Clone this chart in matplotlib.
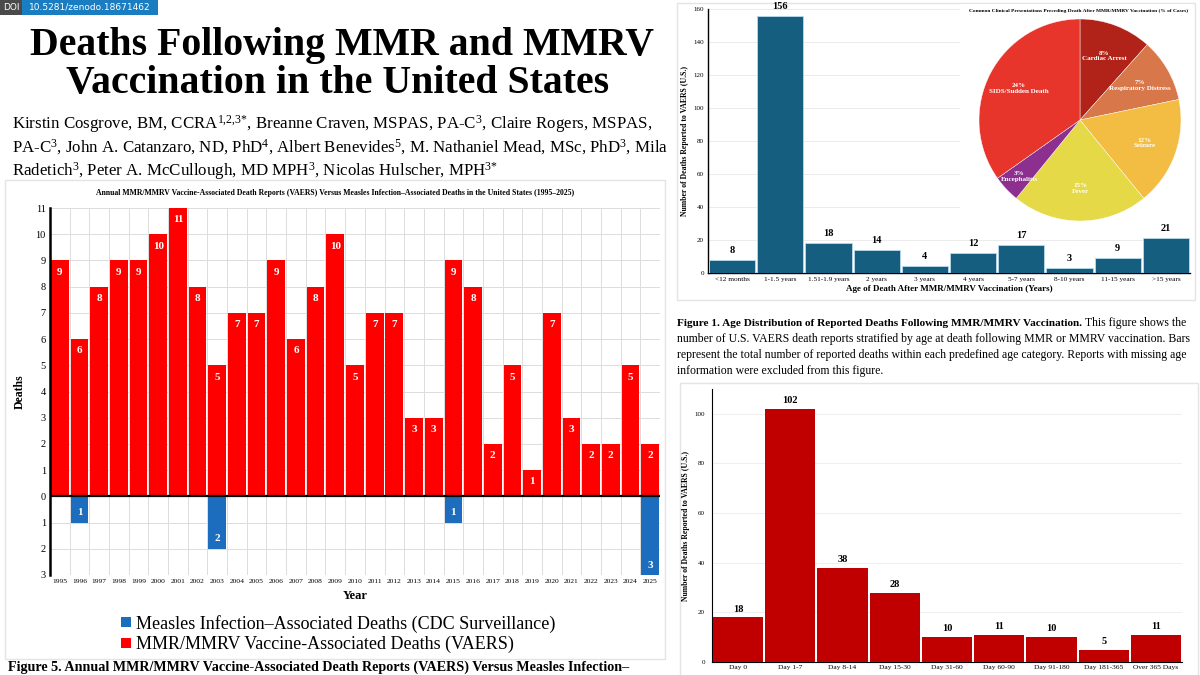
import matplotlib
matplotlib.use("Agg")
import matplotlib.pyplot as plt
from matplotlib.patches import Rectangle, Patch
import numpy as np

plt.rcParams['font.family'] = ['Liberation Serif', 'DejaVu Serif']
plt.rcParams['mathtext.fontset'] = 'custom'
plt.rcParams['mathtext.rm'] = 'Liberation Serif'
plt.rcParams['mathtext.it'] = 'Liberation Serif'

# ---------------- data ----------------
years = list(range(1995, 2026))
vaers_deaths = [9, 6, 8, 9, 9, 10, 11, 8, 5, 7, 7, 9, 6, 8, 10, 5, 7, 7, 3, 3, 9, 8, 2, 5, 1, 7, 3, 2, 2, 5, 2]
measles_deaths = [0, 1, 0, 0, 0, 0, 0, 0, 2, 0, 0, 0, 0, 0, 0, 0, 0, 0, 0, 0, 1, 0, 0, 0, 0, 0, 0, 0, 0, 0, 3]

age_groups = ['<12 months', '1-1.5 years', '1.51-1.9 years', '2 years', '3 years', '4 years',
              '5-7 years', '8-10 years', '11-15 years', '>15 years']
age_deaths = [8, 156, 18, 14, 4, 12, 17, 3, 9, 21]

pie_labels = ['Cardiac Arrest', 'Respiratory Distress', 'Seizure', 'Fever', 'Encephalitis', 'SIDS/Sudden Death']
pie_pct = [8, 7, 12, 15, 3, 24]
pie_colors = ['#B12318', '#D8784A', '#F3BC42', '#E6D947', '#8C2F8E', '#E7352B']

onset_groups = ['Day 0', 'Day 1-7', 'Day 8-14', 'Day 15-30', 'Day 31-60', 'Day 60-90',
                'Day 91-180', 'Day 181-365', 'Over 365 Days']
onset_deaths = [18, 102, 38, 28, 10, 11, 10, 5, 11]

W, H = 1200, 675
fig = plt.figure(figsize=(12, 6.75), dpi=100)
fig.patch.set_facecolor('white')

def fx(x):
    return x / W

def fy(y):
    return 1 - y / H

def box(x0, y0, x1, y1):
    r = Rectangle((fx(x0), fy(y1)), fx(x1) - fx(x0), fy(y0) - fy(y1), transform=fig.transFigure,
                  fill=False, edgecolor='#e4e4e4', lw=1.0, zorder=0)
    fig.add_artist(r)

# ---------------- DOI badge ----------------
fig.add_artist(Rectangle((0, fy(15)), fx(22), fy(0) - fy(15), transform=fig.transFigure,
                         facecolor='#4a4a4a', edgecolor='none'))
fig.add_artist(Rectangle((fx(22), fy(15)), fx(158) - fx(22), fy(0) - fy(15), transform=fig.transFigure,
                         facecolor='#1a7cc1', edgecolor='none'))
fig.text(fx(11), fy(7.5), 'DOI', color='white', fontsize=6.5, ha='center', va='center', family='DejaVu Sans')
fig.text(fx(90), fy(7.5), '10.5281/zenodo.18671462', color='white', fontsize=6.5, ha='center', va='center',
         family='DejaVu Sans')

# ---------------- title and authors ----------------
fig.text(fx(342), fy(45), 'Deaths Following MMR and MMRV', fontsize=28.6, fontweight='bold', ha='center', va='center')
fig.text(fx(338), fy(83), 'Vaccination in the United States', fontsize=28.6, fontweight='bold', ha='center', va='center')

auth_lines = ["Kirstin Cosgrove, BM, CCRA$^{1{,}2{,}3{*}}$, Breanne Craven, MSPAS, PA-C$^{3}$, Claire Rogers, MSPAS,",
              "PA-C$^{3}$, John A. Catanzaro, ND, PhD$^{4}$, Albert Benevides$^{5}$, M. Nathaniel Mead, MSc, PhD$^{3}$, Mila",
              "Radetich$^{3}$, Peter A. McCullough, MD MPH$^{3}$, Nicolas Hulscher, MPH$^{3{*}}$"]
for i, line in enumerate(auth_lines):
    fig.text(fx(12), fy(124 + 23.5 * i), line, fontsize=12.15, ha='left', va='center')

# ---------------- left chart ----------------
box(5, 180, 665, 659)
fig.text(fx(335), fy(193), 'Annual MMR/MMRV Vaccine-Associated Death Reports (VAERS) Versus Measles Infection\u2013Associated Deaths in the United States (1995\u20132025)',
         fontsize=5.6, fontweight='bold', ha='center', va='center')

axL = fig.add_axes([fx(50), fy(575), fx(660) - fx(50), fy(208) - fy(575)])
red = '#FF0000'
blue = '#1C6DBE'
axL.bar(years, vaers_deaths, width=0.9, color=red, zorder=3)
axL.bar(years, [-m for m in measles_deaths], width=0.9, color=blue, zorder=3)
for yr, v in zip(years, vaers_deaths):
    axL.text(yr, v - 0.45, str(v), color='white', fontsize=8, fontweight='bold', ha='center', va='center', zorder=4)
for yr, m in zip(years, measles_deaths):
    if m > 0:
        axL.text(yr, -m + 0.38, str(m), color='white', fontsize=8, fontweight='bold', ha='center', va='center', zorder=4)
axL.set_xlim(1994.5, 2025.5)
axL.set_ylim(-3, 11)
axL.set_yticks(range(-3, 12))
axL.set_yticklabels([str(abs(t)) for t in range(-3, 12)], fontsize=7.5)
axL.set_xticks(years)
axL.set_xticklabels([str(y) for y in years], fontsize=5.4)
for b in np.arange(1995.5, 2026, 1):
    axL.axvline(b, color='#dcdcdc', lw=0.7, zorder=1)
for t in range(-3, 12):
    axL.axhline(t, color='#dcdcdc', lw=0.7, zorder=1)
axL.axhline(0, color='black', lw=1.6, zorder=5)
for s in ['top', 'right', 'bottom']:
    axL.spines[s].set_visible(False)
axL.spines['left'].set_linewidth(1.8)
axL.spines['left'].set_zorder(6)
axL.tick_params(length=0, pad=3)
axL.set_ylabel('Deaths', fontsize=8.5, fontweight='bold', labelpad=7)
axL.set_xlabel('Year', fontsize=9, fontweight='bold', labelpad=4)

handles = [Patch(facecolor=blue, edgecolor='none'), Patch(facecolor=red, edgecolor='none')]
fig.legend(handles, ['Measles Infection\u2013Associated Deaths (CDC Surveillance)',
                     'MMR/MMRV Vaccine-Associated Deaths (VAERS)'],
           loc='center', bbox_to_anchor=(fx(338), fy(634)), frameon=False, fontsize=13,
           handlelength=0.55, handleheight=0.55, handletextpad=0.3, labelspacing=0.2)

fig.text(fx(8), fy(671), 'Figure 5. Annual MMR/MMRV Vaccine-Associated Death Reports (VAERS) Versus Measles Infection\u2013',
         fontsize=10.2, fontweight='bold', ha='left', va='baseline')

# ---------------- top-right chart ----------------
box(677, 3, 1195, 300)
axA = fig.add_axes([fx(708), fy(273), fx(1190) - fx(708), fy(9) - fy(273)])
teal = '#165E80'
xa = np.arange(len(age_groups))
axA.bar(xa, age_deaths, width=0.96, color=teal, edgecolor='#b7dbe9', lw=0.6, zorder=3)
for x, v in zip(xa, age_deaths):
    axA.text(x, v + 3, str(v), fontsize=7.5, fontweight='bold', ha='center', va='bottom', zorder=4)
axA.set_xlim(-0.5, len(age_groups) - 0.5)
axA.set_ylim(0, 160)
axA.set_yticks(range(0, 161, 20))
axA.tick_params(axis='y', labelsize=5, length=0, pad=3)
axA.set_xticks(xa)
axA.set_xticklabels(age_groups, fontsize=5.2)
axA.tick_params(axis='x', length=0, pad=3)
axA.grid(axis='y', color='#e8e8e8', lw=0.6, zorder=0)
for s in ['top', 'right']:
    axA.spines[s].set_visible(False)
axA.spines['left'].set_linewidth(1.0)
axA.spines['bottom'].set_linewidth(1.0)
axA.set_xlabel('Age of Death After MMR/MMRV Vaccination (Years)', fontsize=6.5, fontweight='bold', labelpad=2)
axA.set_ylabel('Number of Deaths Reported to VAERS (U.S.)', fontsize=5.6, fontweight='bold', labelpad=3)

# white panel for the pie
fig.add_artist(Rectangle((fx(960), fy(222)), fx(1192) - fx(960), fy(4) - fy(222), transform=fig.transFigure,
                         facecolor='white', edgecolor='none', zorder=2))
axP = fig.add_axes([fx(976), fy(222), fx(1184) - fx(976), fy(18) - fy(222)])
axP.set_zorder(3)
wedges, _ = axP.pie(pie_pct, colors=pie_colors, startangle=90, counterclock=False,
                    wedgeprops=dict(edgecolor='white', lw=0.3))
for w, lab, p in zip(wedges, pie_labels, pie_pct):
    mid = np.deg2rad((w.theta1 + w.theta2) / 2)
    r = 0.68 if lab != 'Encephalitis' else 0.82
    axP.text(r * np.cos(mid), r * np.sin(mid), f'{p}%\n{lab}', color='white', fontsize=5.0,
             fontweight='bold', ha='center', va='center', linespacing=1.1)
axP.set_aspect('equal')
axP.set_xlim(-1.01, 1.01)
axP.set_ylim(-1.01, 1.01)
fig.text(fx(1079), fy(11), 'Common Clinical Presentations Preceding Death After MMR/MMRV Vaccination (% of Cases)',
         fontsize=3.9, fontweight='bold', ha='center', va='center', zorder=5)

# ---------------- caption figure 1 ----------------
fig.canvas.draw()
renderer = fig.canvas.get_renderer()
cap_fs = 8.5
tb = fig.text(fx(677), fy(323), 'Figure 1. Age Distribution of Reported Deaths Following MMR/MMRV Vaccination.',
              fontsize=8.1, fontweight='bold', ha='left', va='center')
bb = tb.get_window_extent(renderer=renderer)
fig.text(bb.x1 / W + fx(3), fy(323), 'This figure shows the', fontsize=cap_fs, ha='left', va='center')
cap_lines = ['number of U.S. VAERS death reports stratified by age at death following MMR or MMRV vaccination. Bars',
             'represent the total number of reported deaths within each predefined age category. Reports with missing age',
             'information were excluded from this figure.']
for i, line in enumerate(cap_lines):
    fig.text(fx(677), fy(339 + 16 * i), line, fontsize=cap_fs, ha='left', va='center')

# ---------------- bottom-right chart ----------------
box(680, 383, 1198, 680)
axB = fig.add_axes([fx(712), fy(662), fx(1182) - fx(712), fy(389) - fy(662)])
dred = '#C00000'
xb = np.arange(len(onset_groups))
axB.bar(xb, onset_deaths, width=0.96, color=dred, zorder=3)
for x, v in zip(xb, onset_deaths):
    axB.text(x, v + 1.5, str(v), fontsize=7.5, fontweight='bold', ha='center', va='bottom', zorder=4)
axB.set_xlim(-0.5, len(onset_groups) - 0.5)
axB.set_ylim(0, 110)
axB.set_yticks(range(0, 101, 20))
axB.tick_params(axis='y', labelsize=5, length=0, pad=5)
axB.set_xticks(xb)
axB.set_xticklabels(onset_groups, fontsize=5.4)
axB.tick_params(axis='x', length=0, pad=2)
axB.grid(axis='y', color='#ececec', lw=0.6, zorder=0)
for s in ['top', 'right']:
    axB.spines[s].set_visible(False)
axB.set_ylabel('Number of Deaths Reported to VAERS (U.S.)', fontsize=5.6, fontweight='bold', labelpad=3)

fig.savefig('out.png', dpi=100, facecolor='white')
